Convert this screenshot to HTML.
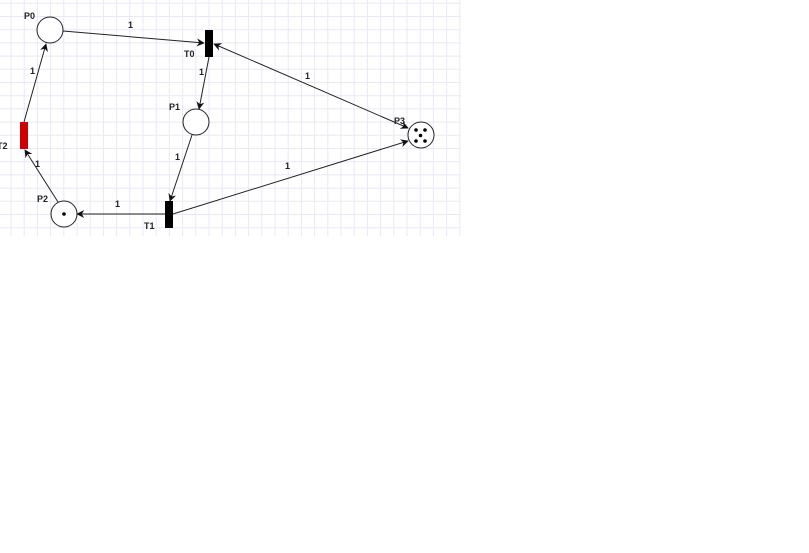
<!DOCTYPE html>
<html><head><meta charset="utf-8"><style>
html,body{margin:0;padding:0;background:#fff;width:809px;height:553px;overflow:hidden}
svg{position:absolute;left:0;top:0}
text{font-family:"Liberation Sans",sans-serif;font-size:9px;font-weight:bold;fill:#222}
</style></head><body>
<svg width="809" height="553">
<defs>
<marker id="ar" viewBox="0 0 10 10" refX="9" refY="5" markerWidth="8" markerHeight="8" orient="auto-start-reverse" markerUnits="userSpaceOnUse"><path d="M0,0 L10,5 L0,10 L3,5 z" fill="#111"/></marker>
</defs>
<g id="grid"></g>
<g stroke="#222" stroke-width="1" fill="none">
<line x1="63" y1="31" x2="204" y2="43" marker-end="url(#ar)"/>
<line x1="408" y1="128" x2="214" y2="44" marker-end="url(#ar)" marker-start="url(#ar)"/>
<line x1="209" y1="57" x2="199" y2="109" marker-end="url(#ar)"/>
<line x1="192" y1="135" x2="170" y2="201" marker-end="url(#ar)"/>
<line x1="165" y1="214" x2="77" y2="214" marker-end="url(#ar)"/>
<line x1="173" y1="214" x2="408" y2="141" marker-end="url(#ar)"/>
<line x1="58" y1="202" x2="25" y2="150" marker-end="url(#ar)"/>
<line x1="24" y1="122" x2="46" y2="44" marker-end="url(#ar)"/>
</g>
<g stroke="#222" stroke-width="1" fill="#fff">
<circle cx="50" cy="30" r="13"/>
<circle cx="196" cy="122" r="13"/>
<circle cx="64" cy="214" r="13"/>
<circle cx="421" cy="135" r="13"/>
</g>
<g fill="#000">
<circle cx="64" cy="214" r="1.8"/>
<circle cx="416" cy="130" r="1.8"/>
<circle cx="425" cy="130" r="1.8"/>
<circle cx="420.5" cy="135.5" r="1.8"/>
<circle cx="416" cy="141" r="1.8"/>
<circle cx="425" cy="141" r="1.8"/>
<rect x="205" y="30" width="8" height="27"/>
<rect x="165" y="201" width="8" height="27"/>
</g>
<rect x="20" y="122" width="8" height="27" fill="#d00000"/>
<text x="24" y="19">P0</text>
<text x="184" y="57">T0</text>
<text x="169" y="110">P1</text>
<text x="144" y="229">T1</text>
<text x="37" y="202">P2</text>
<text x="-3" y="149">T2</text>
<text x="394" y="124">P3</text>
<text x="128" y="28">1</text>
<text x="305" y="79">1</text>
<text x="199" y="75">1</text>
<text x="175" y="160">1</text>
<text x="115" y="207">1</text>
<text x="285" y="169">1</text>
<text x="35" y="167">1</text>
<text x="30" y="74">1</text>
</svg>
<script>
var g=document.getElementById('grid');var ns='http://www.w3.org/2000/svg';
for(var x=11;x<=462;x+=13.2){var l=document.createElementNS(ns,'line');


l.setAttribute('x1',x);l.setAttribute('x2',x);l.setAttribute('y1',0);l.setAttribute('y2',236);l.setAttribute('stroke','#e8e8fa');g.appendChild(l);}
for(var y=3.3;y<=236;y+=13.2){var l=document.createElementNS(ns,'line');


l.setAttribute('x1',0);l.setAttribute('x2',461);l.setAttribute('y1',y);l.setAttribute('y2',y);l.setAttribute('stroke','#e8e8fa');g.appendChild(l);}
</script>
</body></html>
